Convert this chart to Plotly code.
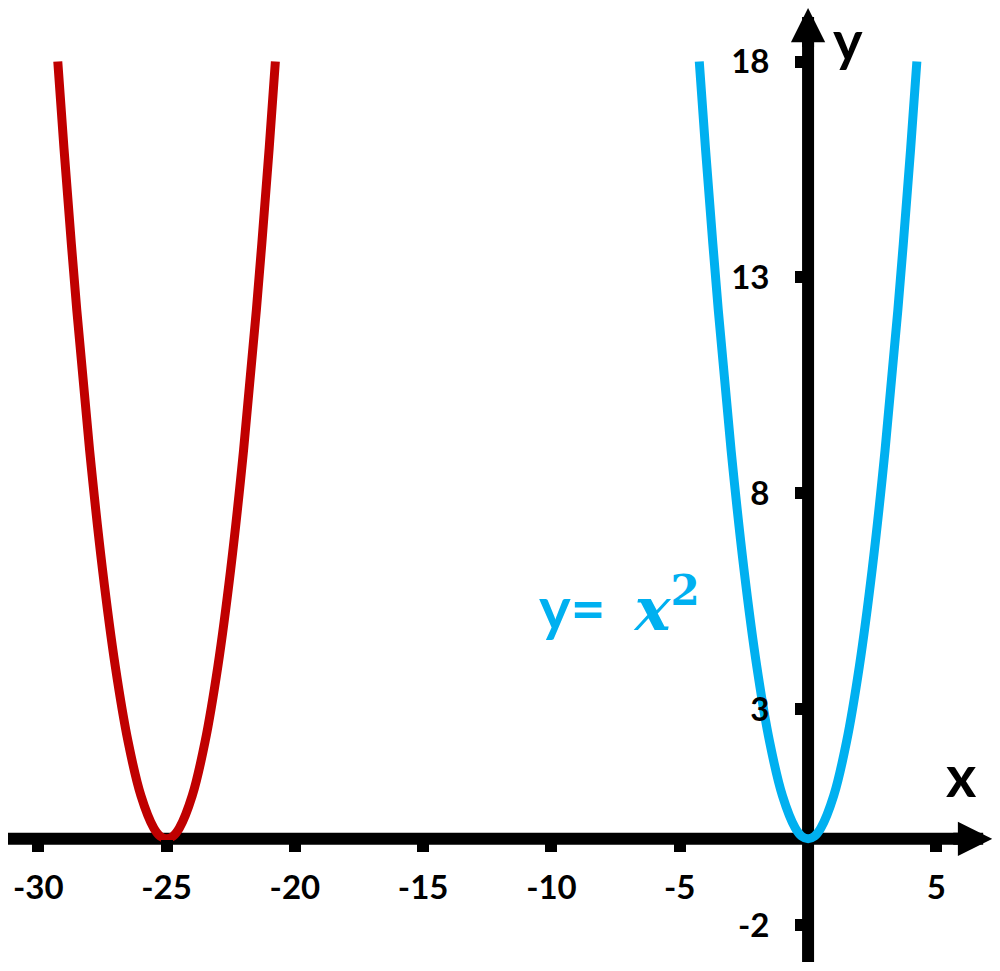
import plotly.graph_objects as go

# Data
blue_x = [-4.24, -4, -3.5, -3, -2.5, -2, -1.5, -1, -0.5, -0.25, 0, 0.25, 0.5, 1, 1.5, 2, 2.5, 3, 3.5, 4, 4.24]
blue_y = [18, 16, 12.25, 9, 6.25, 4, 2.25, 1, 0.25, 0.06, 0, 0.06, 0.25, 1, 2.25, 4, 6.25, 9, 12.25, 16, 18]
red_x = [-29.24, -29, -28.5, -28, -27.5, -27, -26.5, -26, -25.5, -25.25, -25, -24.75, -24.5, -24, -23.5, -23, -22.5, -22, -21.5, -21, -20.76]
red_y = [18, 16, 12.25, 9, 6.25, 4, 2.25, 1, 0.25, 0.06, 0, 0.06, 0.25, 1, 2.25, 4, 6.25, 9, 12.25, 16, 18]

x_ticks = [-30, -25, -20, -15, -10, -5, 5]
x_tick_labels = ["-30", "-25", "-20", "-15", "-10", "-5", "5"]
y_ticks = [-2, 3, 8, 13, 18]
y_tick_labels = ["-2", "3", "8", "13", "18"]

BLUE = "#00B0F0"
RED = "#C00000"
FONT = "Lato"

fig = go.Figure()
fig.add_trace(go.Scatter(x=red_x, y=red_y, mode="lines", line=dict(color=RED, width=9, shape="spline"),
                         hoverinfo="skip", showlegend=False))
fig.add_trace(go.Scatter(x=blue_x, y=blue_y, mode="lines", line=dict(color=BLUE, width=9, shape="spline"),
                         hoverinfo="skip", showlegend=False))

# page body adds an 8px offset, so the figure is 8px smaller each way
W, H = 992, 963
x_range = [-31.18, 7.48]
y_range = [-3.06, 19.24]

fig.update_layout(
    width=W, height=H,
    margin=dict(l=0, r=0, t=0, b=0),
    paper_bgcolor="white", plot_bgcolor="white",
    showlegend=False,
    xaxis=dict(range=x_range, showgrid=False, zeroline=False, showline=False,
               anchor="free", position=(0 - y_range[0]) / (y_range[1] - y_range[0]),
               tickmode="array", tickvals=x_ticks, ticktext=x_tick_labels,
               ticks="outside", ticklen=12, tickwidth=12, tickcolor="black",
               ticklabelstandoff=8,
               tickfont=dict(family=FONT, size=33, color="black", weight="bold")),
    yaxis=dict(range=y_range, showgrid=False, zeroline=False, showline=False,
               anchor="free", position=(0 - x_range[0]) / (x_range[1] - x_range[0]),
               tickmode="array", tickvals=y_ticks, ticktext=y_tick_labels,
               ticks="outside", ticklen=13, tickwidth=12, tickcolor="black",
               ticklabelstandoff=19,
               tickfont=dict(family=FONT, size=33, color="black", weight="bold")),
)

# Axis lines (below the curves)
fig.add_shape(type="line", x0=-31.3, x1=6.2, y0=0, y1=0, xref="x", yref="y",
              line=dict(color="black", width=12), layer="below")
fig.add_shape(type="line", x0=0, x1=0, y0=-2.85, y1=18.6, xref="x", yref="y",
              line=dict(color="black", width=12), layer="below")
# Arrowheads
fig.add_annotation(x=7.17, y=0, ax=5.6, ay=0, xref="x", yref="y", axref="x", ayref="y",
                   text="", showarrow=True, arrowhead=2, arrowsize=0.57, arrowwidth=12,
                   arrowcolor="black", standoff=0, startstandoff=0)
fig.add_annotation(x=0, y=19.24, ax=0, ay=18.3, xref="x", yref="y", axref="x", ayref="y",
                   text="", showarrow=True, arrowhead=2, arrowsize=0.57, arrowwidth=12,
                   arrowcolor="black", standoff=0, startstandoff=0)

# Axis titles
fig.add_annotation(x=5.96, y=1.5, xref="x", yref="y", text="<b>x</b>",
                   showarrow=False, font=dict(family=FONT, size=58, color="black"))
fig.add_annotation(x=1.56, y=18.5, xref="x", yref="y", text="<b>y</b>",
                   showarrow=False, font=dict(family=FONT, size=56, color="black"))

# Curve label
fig.add_annotation(x=-10.56, y=5.42, xref="x", yref="y", xanchor="left", yanchor="middle",
                   text="<b>y=&nbsp;&nbsp;</b><span style='font-family:DejaVu Serif'><b><i>x</i><sup>2</sup></b></span>",
                   showarrow=False, font=dict(family=FONT, size=60, color=BLUE))

fig.write_html("out.html")
